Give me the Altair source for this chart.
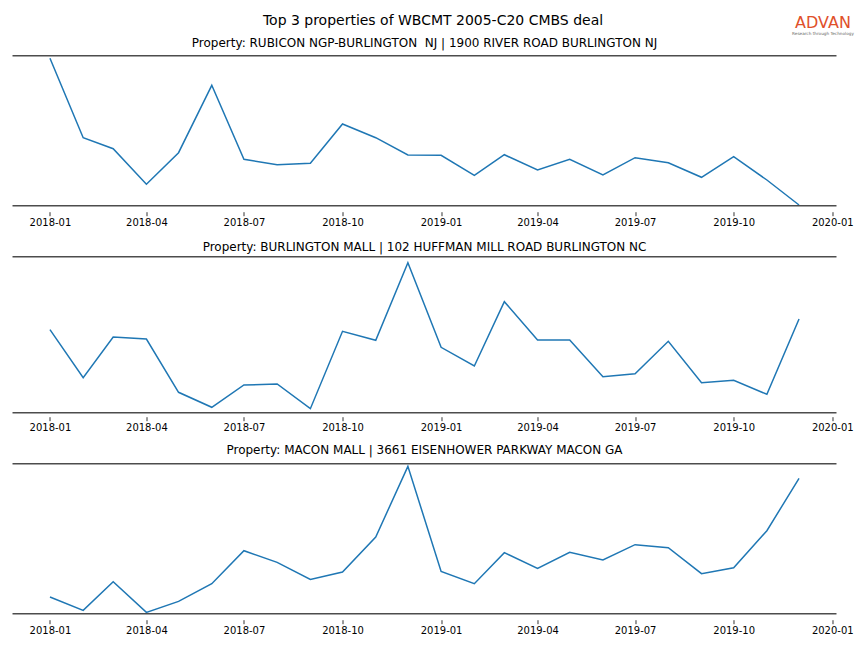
import altair as alt
import pandas as pd

months = [
    "2018-01-01", "2018-02-01", "2018-03-01", "2018-04-01", "2018-05-01", "2018-06-01",
    "2018-07-01", "2018-08-01", "2018-09-01", "2018-10-01", "2018-11-01", "2018-12-01",
    "2019-01-01", "2019-02-01", "2019-03-01", "2019-04-01", "2019-05-01", "2019-06-01",
    "2019-07-01", "2019-08-01", "2019-09-01", "2019-10-01", "2019-11-01", "2019-12-01",
]

main_title = "Top 3 properties of WBCMT 2005-C20 CMBS deal"
panel_titles = [
    "Property: RUBICON NGP-BURLINGTON \u00a0NJ | 1900 RIVER ROAD BURLINGTON NJ",
    "Property: BURLINGTON MALL | 102 HUFFMAN MILL ROAD BURLINGTON NC",
    "Property: MACON MALL | 3661 EISENHOWER PARKWAY MACON GA",
]
logo_text = "ADVAN"
logo_tagline = "Research through Technology"

rubicon = [147.4, 68.0, 57.0, 21.4, 53.0, 120.4, 46.4, 41.0, 42.4, 81.7, 68.0, 50.7,
           50.4, 30.4, 51.0, 35.7, 46.4, 30.7, 48.0, 43.0, 28.4, 49.0, 25.7, 0.7]
burlington = [83.0, 35.0, 75.7, 73.7, 20.4, 5.4, 27.7, 28.7, 4.0, 81.4, 72.4, 150.0,
              65.4, 46.7, 111.0, 72.7, 72.7, 36.0, 39.0, 71.4, 30.0, 32.4, 18.4, 93.7]
macon = [16.7, 3.3, 32.0, 1.3, 12.3, 30.0, 63.0, 51.3, 34.3, 41.7, 76.7, 147.3,
         42.3, 30.0, 61.0, 45.3, 61.3, 53.7, 69.0, 66.0, 40.0, 46.0, 83.0, 135.3]

series = [rubicon, burlington, macon]
panel_heights = [150, 156, 150]
tick_offsets = [6, 4, 6]
title_offsets = [-9.0, -6.0, -9.3]

tick_dates = [(2018, 1), (2018, 4), (2018, 7), (2018, 10), (2019, 1),
              (2019, 4), (2019, 7), (2019, 10), (2020, 1)]

W = 824
FONT = "DejaVu Sans"
SPINE = "#4d4d4d"

x_domain = [
    alt.DateTime(year=2017, month=11, date=27, hours=1, minutes=12, utc=True),
    alt.DateTime(year=2020, month=1, date=4, hours=22, minutes=48, utc=True),
]


def panel(i):
    vals = series[i]
    h = panel_heights[i]
    df = pd.DataFrame({"month": months, "value": vals})
    line = alt.Chart(df).mark_line(color="#1f77b4", strokeWidth=1.5).encode(
        x=alt.X(
            "month:T",
            scale=alt.Scale(type="utc", domain=x_domain, nice=False),
            axis=alt.Axis(
                values=[alt.DateTime(year=y, month=m, date=1, utc=True) for y, m in tick_dates],
                labelExpr="utcFormat(datum.value, '%Y-%m')",
                domain=False,
                grid=False,
                offset=tick_offsets[i],
                tickSize=4,
                tickWidth=0.8,
                tickColor="black",
                labelFontSize=10,
                labelFont=FONT,
                labelColor="black",
                labelPadding=2,
                labelFlush=False,
                labelOverlap=False,
                title=None,
            ),
        ),
        y=alt.Y("value:Q", scale=alt.Scale(domain=[0, h], nice=False, zero=False), axis=None),
    )
    one = pd.DataFrame({"a": [0]})
    top = alt.Chart(one).mark_rule(color=SPINE, strokeWidth=1.5).encode(
        x=alt.value(0), x2=alt.value(W), y=alt.value(0)
    )
    bottom = alt.Chart(one).mark_rule(color=SPINE, strokeWidth=1.5).encode(
        x=alt.value(0), x2=alt.value(W), y=alt.value(h)
    )
    ptitle = alt.Chart(one).mark_text(
        text=panel_titles[i], font=FONT, fontSize=12, color="black",
        align="center", baseline="alphabetic",
    ).encode(x=alt.value(W / 2), y=alt.value(title_offsets[i]))
    layers = [line, top, bottom, ptitle]
    if i == 0:
        layers.append(
            alt.Chart(one).mark_text(
                text=main_title, font=FONT, fontSize=14, color="black",
                align="center", baseline="alphabetic",
            ).encode(x=alt.value(420.5), y=alt.value(-31.0))
        )
        layers.append(
            alt.Chart(one).mark_text(
                text=logo_text, font=FONT, fontSize=16, color="#E0502A",
                align="center", baseline="alphabetic",
            ).encode(x=alt.value(810.5), y=alt.value(-27.6))
        )
        layers.append(
            alt.Chart(one).mark_text(
                text=logo_tagline, font=FONT, fontSize=4.2, color="#666666",
                align="center", baseline="alphabetic",
            ).encode(x=alt.value(810.5), y=alt.value(-21.0))
        )
    return alt.layer(*layers).properties(width=W, height=h)


panels = [panel(i) for i in range(3)]

chart = alt.vconcat(*panels, spacing=51, bounds="flush").properties(
    padding={"left": 3.5, "top": 5.7, "right": 0, "bottom": 2},
).configure_view(stroke=None)

chart.save("out.html", embed_options={"renderer": "svg", "actions": False})
